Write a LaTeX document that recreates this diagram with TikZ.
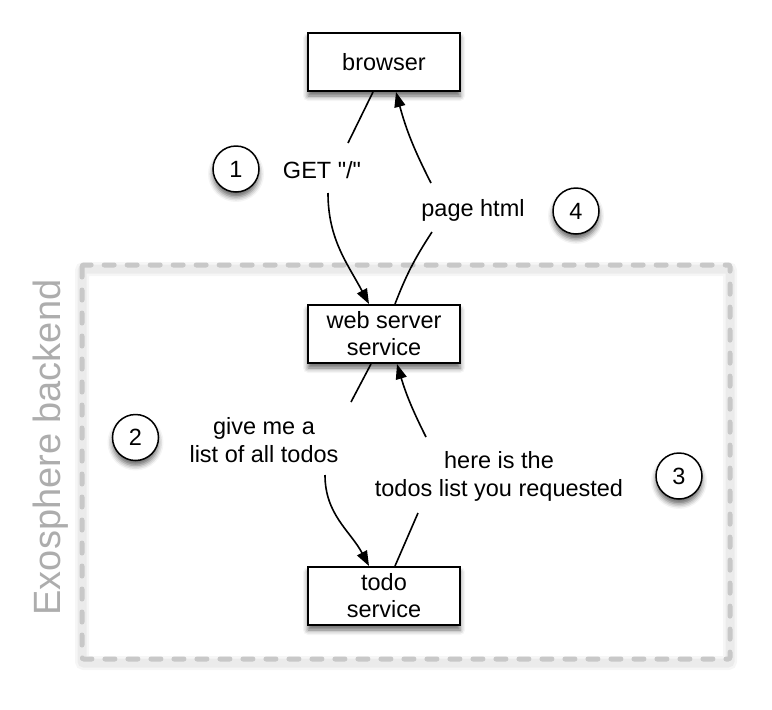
\documentclass[tikz,border=0pt]{standalone}
\usepackage{fontspec}
\newfontfamily\diagfont{Liberation Sans}
\usetikzlibrary{arrows.meta,shadows.blur}
\definecolor{dashgray}{HTML}{C8C8C8}
\definecolor{labelgray}{HTML}{ADADAD}
\tikzset{
  every node/.style={font=\diagfont},
  svcbox/.style={draw=black, line width=2pt, fill=white, minimum width=152pt, minimum height=58pt,
    align=center, font=\diagfont\fontsize{23.5}{27}\selectfont, inner sep=0pt,
    blur shadow={shadow xshift=0pt, shadow yshift=-5pt, shadow opacity=60, shadow blur radius=5pt}},
  stepnum/.style={draw=black, line width=1.5pt, fill=white, circle, minimum size=46pt, inner sep=0pt,
    font=\diagfont\fontsize{23.5}{27}\selectfont,
    blur shadow={shadow xshift=0pt, shadow yshift=-5pt, shadow opacity=60, shadow blur radius=5pt}},
  msg/.style={align=center, font=\diagfont\fontsize{23.5}{28}\selectfont, inner sep=0pt},
  conn/.style={line width=1.6pt, black},
  arr/.style={conn, -{Triangle[length=15pt,width=11pt]}},
}
\begin{document}
\begin{tikzpicture}[x=1pt,y=-1pt]
\useasboundingbox (0,0) rectangle (772,710);
% backend frame with soft shadow
\draw[line width=14pt, black, opacity=0.035, rounded corners=2pt] (82,269) rectangle (730,663);
\draw[line width=9pt, black, opacity=0.045, rounded corners=2pt] (82,269) rectangle (730,663);
\draw[line width=5pt, dashgray, dash pattern=on 10pt off 13pt, line cap=round, rounded corners=2pt] (82,265) rectangle (730,659);
\node[rotate=90, anchor=base, text=labelgray, font=\diagfont\fontsize{38}{40}\selectfont] (backend) at (60,447.5) {Exosphere backend};

% services
\node[svcbox] (browser) at (384,62) {browser};
\node[svcbox] (web) at (384,334) {web server\\service};
\node[svcbox] (todo) at (384,596) {todo\\service};

% gap end points of the connectors
\coordinate (g1) at (348,143);
\coordinate (g2) at (328,193);
\coordinate (p1) at (432,232);
\coordinate (p2) at (431,183);
\coordinate (c1) at (351,402);
\coordinate (c2) at (325,475);
\coordinate (t1) at (418,513);
\coordinate (t2) at (426,437);

% 1: GET
\draw[conn] ([xshift=-11pt]browser.south) -- (g1);
\draw[arr] (g2) to[out=-90,in=118] ([xshift=-15pt]web.north);
% 4: page html
\draw[conn] ([xshift=11pt]web.north) to[bend left=6] (p1);
\draw[arr] (p2) to[bend left=6] ([xshift=12pt]browser.south);
% 2: give me a list
\draw[conn] ([xshift=-13pt]web.south) -- (c1);
\draw[arr] (c2) to[out=-90,in=118] ([xshift=-15pt]todo.north);
% 3: here is the list
\draw[conn] ([xshift=11pt]todo.north) -- (t1);
\draw[arr] (t2) to[bend left=5] ([xshift=13pt]web.south);

% message labels
\node[msg] (lget) at (322,170) {GET "/"};
\node[msg] (lhtml) at (473,210) {page html};
\node[msg] (lgive) at (264,440) {give me a\\list of all todos};
\node[msg] (lhere) at (499,476) {here is the\\todos list you requested};

% step numbers
\node[stepnum] (n1) at (236,169) {1};
\node[stepnum] (n4) at (576,211) {4};
\node[stepnum] (n2) at (135.5,437.5) {2};
\node[stepnum] (n3) at (679,476) {3};
\end{tikzpicture}
\end{document}
